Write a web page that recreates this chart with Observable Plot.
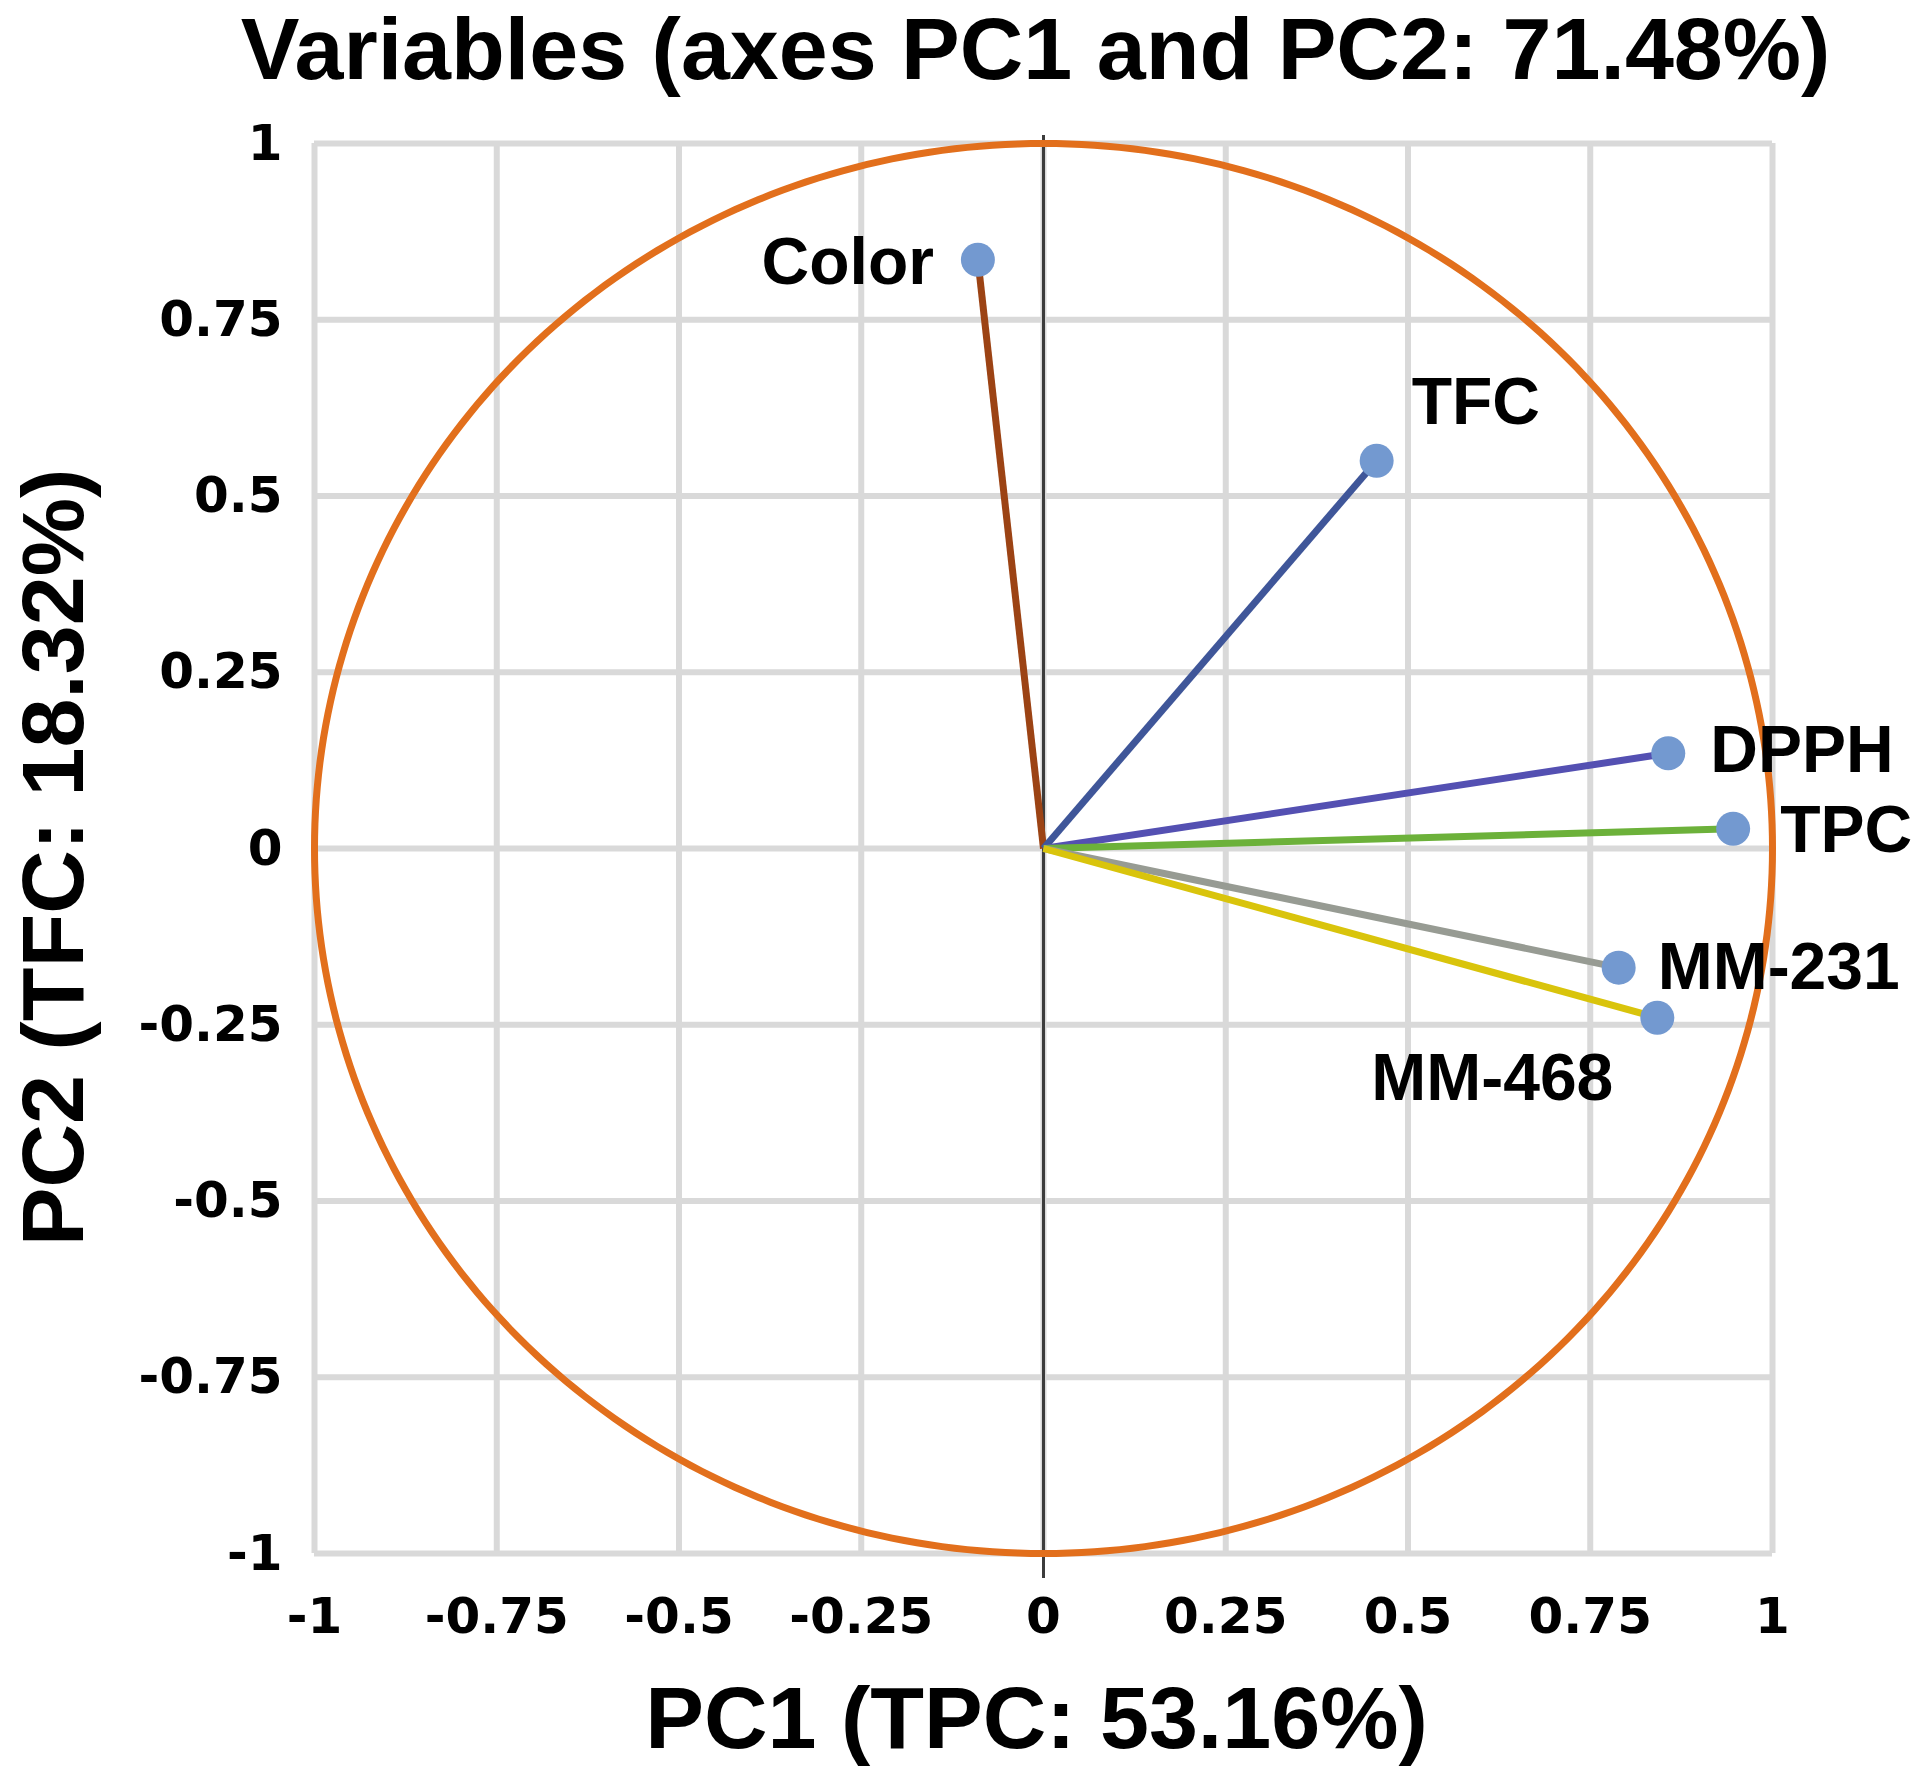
<!DOCTYPE html>
<html>
<head>
<meta charset="utf-8">
<script src="https://cdn.jsdelivr.net/npm/d3@7"></script>
<script src="https://cdn.jsdelivr.net/npm/@observablehq/plot@0.6"></script>
<style>
  html, body { margin: 0; padding: 0; background: #ffffff; }
  #chart svg { display: block; }
</style>
</head>
<body>
<div id="chart"></div>
<script>
// ---- data ----
const variables = ["Color", "TFC", "DPPH", "TPC", "MM-231", "MM-468"];
const pc1 = [-0.09, 0.457, 0.857, 0.946, 0.789, 0.842];
const pc2 = [0.835, 0.55, 0.135, 0.028, -0.169, -0.24];
const xTicks = [-1, -0.75, -0.5, -0.25, 0, 0.25, 0.5, 0.75, 1];
const yTicks = [-1, -0.75, -0.5, -0.25, 0, 0.25, 0.5, 0.75, 1];
const titleText = "Variables (axes PC1 and PC2: 71.48%)";
const xLabel = "PC1 (TPC: 53.16%)";
const yLabel = "PC2 (TFC: 18.32%)";

// ---- styles (kept apart from data) ----
const lineColors = {
  "Color": "#9c4314",
  "TFC": "#3f5699",
  "DPPH": "#5450b2",
  "TPC": "#6cb13a",
  "MM-231": "#979b93",
  "MM-468": "#d9c40c"
};
const labelPlacement = {
  "Color": {textAnchor: "end", dx: -44, dy: 3},
  "TFC": {textAnchor: "start", dx: 35, dy: -58},
  "DPPH": {textAnchor: "start", dx: 42, dy: -2},
  "TPC": {textAnchor: "start", dx: 47, dy: 2},
  "MM-231": {textAnchor: "start", dx: 39, dy: 0},
  "MM-468": {textAnchor: "end", dx: -44, dy: 61}
};

const rows = variables.map((v, i) => ({name: v, x: pc1[i], y: pc2[i]}));

// unit correlation circle
const circle = d3.range(0, 361).map(a => ({
  x: Math.cos(a * Math.PI / 180),
  y: Math.sin(a * Math.PI / 180)
}));

const labelFont = "'Liberation Sans', Arial, sans-serif";

const labelMarks = rows.map(d => Plot.text([d], {
  x: "x", y: "y", text: "name", lineAnchor: "middle",
  fontFamily: labelFont, fontSize: 66, fontWeight: "bold", fill: "#000",
  ...labelPlacement[d.name]
}));

const chart = Plot.plot({
  width: 1920,
  height: 1781,
  marginLeft: 314,
  marginRight: 148,
  marginTop: 143,
  marginBottom: 228,
  style: {
    background: "#ffffff",
    color: "#000",
    fontFamily: "'DejaVu Sans', Verdana, sans-serif",
    fontSize: "50px",
    fontWeight: "bold"
  },
  x: {domain: [-1, 1]},
  y: {domain: [-1, 1]},
  marks: [
    Plot.gridX(xTicks, {stroke: "#d9d9d9", strokeWidth: 6, strokeOpacity: 1}),
    Plot.gridY(yTicks, {stroke: "#d9d9d9", strokeWidth: 6, strokeOpacity: 1}),
    Plot.axisX(xTicks, {tickSize: 0, tickPadding: 44, tickFormat: d => String(d), label: null}),
    Plot.axisY(yTicks, {tickSize: 0, tickPadding: 32, tickFormat: d => String(d), label: null}),
    Plot.ruleX([0], {stroke: "#3c3c3c", strokeWidth: 3, insetTop: -8, insetBottom: -25}),
    Plot.line(circle, {x: "x", y: "y", stroke: "#e26f1c", strokeWidth: 7}),
    Plot.link(rows, {
      x1: () => 0, y1: () => 0, x2: "x", y2: "y",
      stroke: d => lineColors[d.name], strokeWidth: 7
    }),
    Plot.dot(rows, {x: "x", y: "y", r: 17, fill: "#7399d0", stroke: "none"}),
    ...labelMarks,
    Plot.text([titleText], {
      frameAnchor: "top", text: d => d, dx: -8, dy: -93,
      textAnchor: "middle", lineAnchor: "middle",
      fontFamily: labelFont, fontSize: 88, fontWeight: "bold", fill: "#000"
    }),
    Plot.text([xLabel], {
      frameAnchor: "bottom", text: d => d, dx: -7, dy: 166,
      textAnchor: "middle", lineAnchor: "middle",
      fontFamily: labelFont, fontSize: 88, fontWeight: "bold", fill: "#000"
    }),
    Plot.text([yLabel], {
      frameAnchor: "left", text: d => d, rotate: -90, dx: -260, dy: 9,
      textAnchor: "middle", lineAnchor: "middle",
      fontFamily: labelFont, fontSize: 88, fontWeight: "bold", fill: "#000"
    })
  ]
});

document.getElementById("chart").appendChild(chart);
</script>
</body>
</html>
